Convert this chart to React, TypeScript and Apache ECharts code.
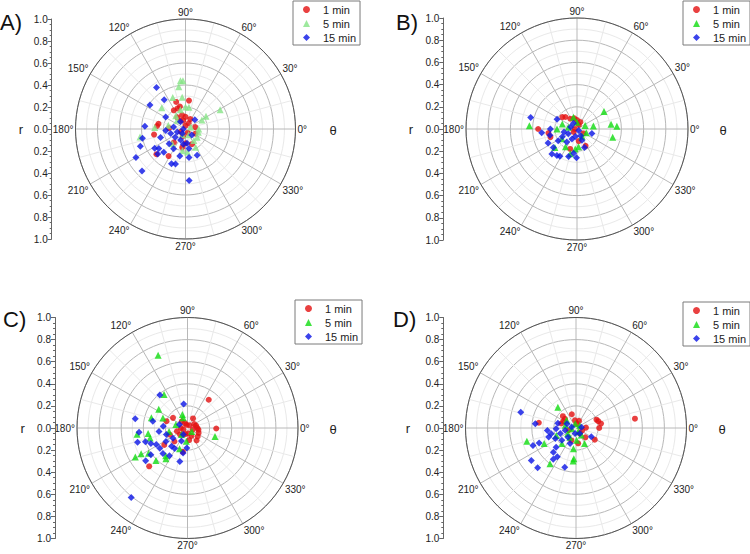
import React, { useEffect, useRef } from 'react';
import * as echarts from 'echarts';

const FONT = '"Liberation Sans", Arial, Helvetica, sans-serif';

const seriesNames = ['1 min', '5 min', '15 min'];
const panelLetters = ['A)', 'B)', 'C)', 'D)'];

// [r, theta(deg)]
const A_1min = [[0.26,83],[0.26,109],[0.21,104],[0.20,111],[0.20,122],[0.13,104],[0.09,123],[0.11,90],[0.10,64],[0.09,11],[0.25,169],[0.26,174],[0.29,190],[0.35,221],[0.29,238],[0.16,229],[0.17,260],[0.13,270],[0.15,293],[0.05,210],[0.03,90],[0.06,61],[0.08,105],[0.10,335],[0.13,125],[0.15,177],[0.04,300],[0.07,250]];
const A_5min = [[0.44,96],[0.44,93],[0.39,99],[0.31,112],[0.29,138],[0.29,96],[0.20,81],[0.36,29],[0.22,32],[0.17,29],[0.12,0],[0.12,346],[0.13,325],[0.13,306],[0.19,299],[0.21,275],[0.20,262],[0.16,168],[0.28,177],[0.42,190],[0.15,126],[0.11,134],[0.20,90],[0.05,20],[0.06,242],[0.18,228],[0.06,298],[0.18,105]];
const A_15min = [[0.46,125],[0.33,126],[0.39,146],[0.37,176],[0.40,192],[0.44,201],[0.52,210],[0.55,224],[0.33,212],[0.30,216],[0.29,227],[0.34,222],[0.34,248],[0.33,254],[0.25,258],[0.26,277],[0.26,294],[0.47,274],[0.21,239],[0.21,149],[0.24,199],[0.18,184],[0.12,45],[0.08,125],[0.11,170],[0.14,197],[0.12,219],[0.11,246],[0.13,276],[0.08,316],[0.05,234],[0.08,200],[0.18,280],[0.02,180],[0.20,222],[0.14,262]];

const B_1min = [[0.17,141],[0.15,134],[0.11,123],[0.10,104],[0.08,90],[0.35,180],[0.25,197],[0.26,188],[0.17,297],[0.11,278],[0.19,251],[0.02,180],[0.07,64],[0.04,65],[0.07,325],[0.04,222]];
const B_5min = [[0.29,33],[0.15,10],[0.31,8],[0.36,4],[0.33,347],[0.09,338],[0.08,305],[0.43,176],[0.11,107],[0.14,161],[0.18,180],[0.19,237],[0.18,265],[0.16,275],[0.26,220],[0.08,168],[0.06,90],[0.08,24],[0.23,255],[0.16,213]];
const B_15min = [[0.43,166],[0.32,186],[0.20,154],[0.24,180],[0.25,193],[0.29,206],[0.27,218],[0.32,225],[0.30,233],[0.29,238],[0.26,253],[0.26,269],[0.22,262],[0.18,292],[0.14,343],[0.15,208],[0.15,232],[0.10,243],[0.09,209],[0.07,258],[0.07,298],[0.12,193],[0.20,212],[0.06,163],[0.06,122],[0.11,294],[0.02,320]];

const C_1min = [[0.32,53],[0.26,359],[0.08,15],[0.11,336],[0.14,306],[0.11,278],[0.49,225],[0.26,216],[0.16,145],[0.05,118],[0.03,107],[0.03,55],[0.05,343],[0.08,296],[0.09,221],[0.17,226],[0.22,259],[0.10,197],[0.06,180],[0.05,278],[0.10,351],[0.17,201],[0.20,162],[0.07,30],[0.09,0],[0.12,320],[0.06,250],[0.04,200],[0.10,60],[0.08,130]];
const C_5min = [[0.71,112],[0.37,125],[0.31,147],[0.34,164],[0.46,187],[0.54,209],[0.48,209],[0.42,213],[0.41,226],[0.34,235],[0.32,232],[0.13,111],[0.10,113],[0.11,163],[0.26,343],[0.05,320],[0.12,265],[0.08,228],[0.17,191],[0.35,195],[0.24,158],[0.36,188],[0.20,249]];
const C_15min = [[0.81,231],[0.39,130],[0.22,99],[0.48,170],[0.44,185],[0.47,196],[0.40,198],[0.36,203],[0.48,218],[0.41,216],[0.32,226],[0.30,237],[0.31,257],[0.23,260],[0.26,187],[0.32,169],[0.22,176],[0.23,212],[0.16,215],[0.13,245],[0.08,156],[0.20,197],[0.32,208],[0.22,229],[0.31,216],[0.22,238],[0.18,268],[0.07,237]];

const D_1min = [[0.54,9],[0.20,22],[0.21,17],[0.23,10],[0.21,0],[0.20,328],[0.34,172],[0.16,138],[0.13,107],[0.13,140],[0.13,152],[0.07,98],[0.07,67],[0.04,80],[0.06,338],[0.12,315],[0.14,278],[0.12,250],[0.06,305],[0.07,197],[0.14,163],[0.09,2]];
const D_5min = [[0.25,131],[0.46,195],[0.40,234],[0.30,265],[0.28,266],[0.32,206],[0.16,299],[0.08,307],[0.19,263],[0.09,214],[0.04,189],[0.04,100],[0.04,300],[0.10,166],[0.19,228],[0.10,236],[0.11,273],[0.11,141],[0.04,33],[0.19,201]];
const D_15min = [[0.52,164],[0.37,174],[0.50,216],[0.50,226],[0.42,202],[0.36,202],[0.35,234],[0.31,237],[0.37,254],[0.30,227],[0.25,224],[0.26,198],[0.26,185],[0.16,330],[0.17,165],[0.23,193],[0.15,199],[0.17,221],[0.11,229],[0.05,260],[0.04,167],[0.06,305],[0.05,8],[0.18,182],[0.10,192],[0.09,155],[0.15,249],[0.21,207]];

const panelData = [
  [A_1min, A_5min, A_15min],
  [B_1min, B_5min, B_15min],
  [C_1min, C_5min, C_15min],
  [D_1min, D_5min, D_15min],
];

const RED = '#e41010';
const BLUE = '#0a14e6';
const GREEN = '#10dc10';
const PALE_GREEN = '#86e486';

const layouts = [
  { cx: 185.5, cy: 129, R: 110, axisX: 51.7, legL: 293, legT: 1, rX: 21, thX: 333, letX: 0, letY: 23, green: PALE_GREEN },
  { cx: 577, cy: 129, R: 111, axisX: 443.3, legL: 683, legT: 1, rX: 411, thX: 723, letX: 396, letY: 23, green: GREEN },
  { cx: 187.5, cy: 428, R: 110.5, axisX: 55, legL: 295, legT: 300, rX: 22.7, thX: 333, letX: 3, letY: 320, green: GREEN },
  { cx: 576, cy: 428, R: 110.5, axisX: 443.3, legL: 683, legT: 302, rX: 408, thX: 722, letX: 393, letY: 320, green: GREEN },
];

export default function App() {
  const ref = useRef<HTMLDivElement>(null);
  useEffect(() => {
    if (!ref.current) return;
    const chart = echarts.init(ref.current, null, { renderer: 'svg' });
    const polar: any[] = [];
    const angleAxis: any[] = [];
    const radiusAxis: any[] = [];
    const grid: any[] = [];
    const xAxis: any[] = [];
    const yAxis: any[] = [];
    const legend: any[] = [];
    const series: any[] = [];
    const graphic: any[] = [];

    layouts.forEach((L, i) => {
      const colors = [RED, L.green, BLUE];
      const symbols = ['circle', 'triangle', 'diamond'];
      const sizes = [6, 7, 7];
      polar.push({ center: [L.cx, L.cy], radius: L.R });
      angleAxis.push({
        polarIndex: i, type: 'value', min: 0, max: 360, interval: 30,
        startAngle: 0, clockwise: false,
        axisLine: { show: true, lineStyle: { color: '#555', width: 1 } },
        axisTick: { show: false },
        axisLabel: {
          show: true, margin: 2, fontSize: 10, color: '#222', fontFamily: FONT,
          formatter: (v: number) => (v >= 360 ? '' : v + '°'),
        },
        splitLine: { show: true, lineStyle: { color: '#b8b8b8', width: 1 } },
        minorTick: { show: false, splitNumber: 2 },
        minorSplitLine: { show: true, lineStyle: { color: '#e9e9e9', width: 1 } },
      });
      radiusAxis.push({
        polarIndex: i, type: 'value', min: 0, max: 1, interval: 0.2,
        axisLine: { show: false }, axisTick: { show: false }, axisLabel: { show: false },
        splitLine: { show: true, lineStyle: { color: '#b8b8b8', width: 1 } },
        minorTick: { show: false, splitNumber: 2 },
        minorSplitLine: { show: true, lineStyle: { color: '#e9e9e9', width: 1 } },
      });
      grid.push({ left: L.axisX, top: L.cy - L.R, width: 1, height: 2 * L.R, containLabel: false });
      xAxis.push({ gridIndex: i, type: 'value', min: 0, max: 1, show: false });
      yAxis.push({
        gridIndex: i, type: 'value', min: -1, max: 1, interval: 0.2, position: 'left',
        axisLine: { show: true, lineStyle: { color: '#666', width: 1 } },
        axisTick: { show: true, length: 4, lineStyle: { color: '#666' } },
        minorTick: { show: true, splitNumber: 4, length: 2, lineStyle: { color: '#666' } },
        splitLine: { show: false },
        axisLabel: {
          margin: 4, fontSize: 10, color: '#222', fontFamily: FONT,
          formatter: (v: number) => Math.abs(v).toFixed(1),
        },
      });
      legend.push({
        orient: 'vertical', left: L.legL, top: L.legT,
        itemWidth: 7, itemHeight: 7, itemGap: 1,
        borderColor: '#7a7a7a', borderWidth: 1, backgroundColor: '#fff',
        padding: [2, 4, 1, 10], selectedMode: false,
        textStyle: { fontSize: 11, lineHeight: 13, color: '#222', fontFamily: FONT, padding: [0, 0, 0, 8] },
        data: seriesNames.map((n, k) => ({ name: n, icon: symbols[k], itemStyle: { color: colors[k] } })),
      });
      panelData[i].forEach((d, k) => {
        series.push({
          type: 'scatter', coordinateSystem: 'polar', polarIndex: i, name: seriesNames[k],
          symbol: symbols[k], symbolSize: sizes[k],
          itemStyle: { color: colors[k] }, data: d, z: 3 + k,
        });
      });
      graphic.push(
        { type: 'text', left: L.letX, top: L.letY - 12, style: { text: panelLetters[i], font: `22px ${FONT}`, fill: '#111' } },
        { type: 'text', x: L.rX, y: L.cy, style: { text: 'r', font: `13px ${FONT}`, fill: '#222', textAlign: 'center', textVerticalAlign: 'middle' } },
        { type: 'text', x: L.thX, y: L.cy + 1, style: { text: 'θ', font: `13px ${FONT}`, fill: '#222', textAlign: 'center', textVerticalAlign: 'middle' } },
      );
    });

    chart.setOption({
      animation: false,
      backgroundColor: '#fff',
      polar, angleAxis, radiusAxis, grid, xAxis, yAxis, legend, series, graphic,
    });
    return () => chart.dispose();
  }, []);
  return <div ref={ref} style={{ position: 'absolute', left: 0, top: 0, width: 750, height: 554 }} />;
}
